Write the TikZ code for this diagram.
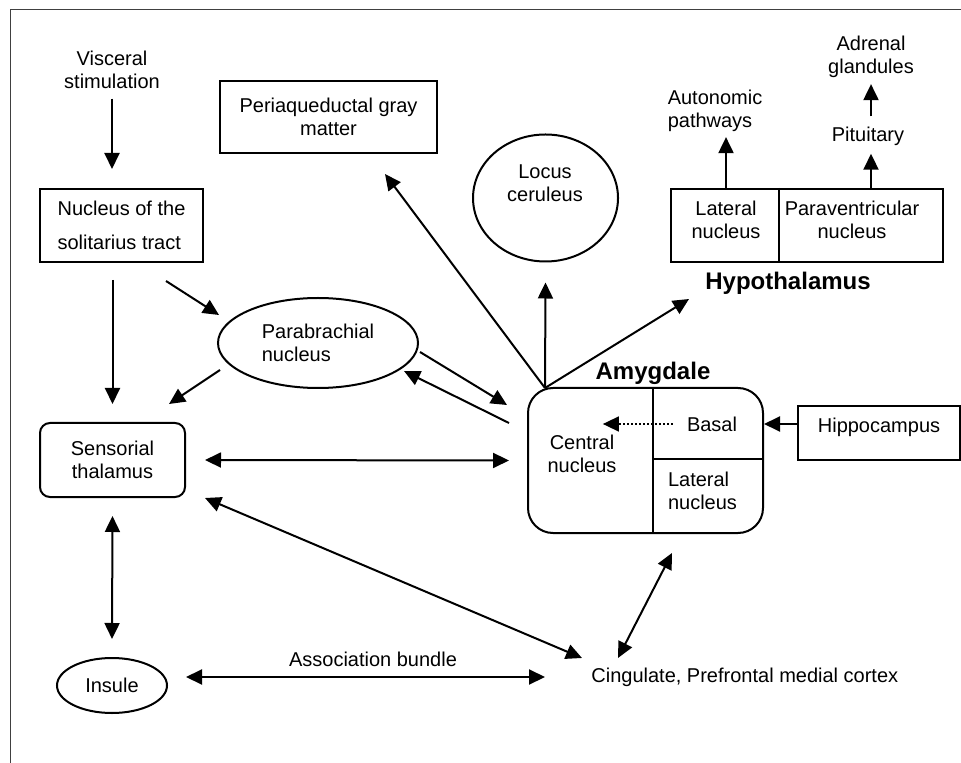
\documentclass[tikz,border=0pt]{standalone}
\usepackage{fontspec}
\setmainfont{Liberation Sans}
\usetikzlibrary{arrows.meta,positioning,calc,shapes.geometric}
\tikzset{
  lbl/.style   ={align=center, inner sep=0pt, font=\fontsize{10}{11.4}\selectfont},
  ttl/.style   ={inner sep=0pt, font=\fontsize{12}{14}\selectfont\bfseries},
  box/.style   ={draw, line width=1pt, inner sep=0pt, align=center, font=\fontsize{10}{11.4}\selectfont},
  rbox/.style  ={box, rounded corners=5pt},
  oval/.style  ={ellipse, draw, line width=1pt, inner sep=0pt, align=center, font=\fontsize{10}{11.4}\selectfont},
  arr/.style   ={-{Triangle[length=8pt,width=7.5pt]}, line width=1pt},
  dbl/.style   ={{Triangle[length=8pt,width=7.5pt]}-{Triangle[length=8pt,width=7.5pt]}, line width=1pt},
  dotarr/.style={arr, dash pattern=on 0.8pt off 1.2pt, line width=0.8pt},
  frm/.style   ={line width=0.75pt, draw=black!75},
}
\begin{document}
\begin{tikzpicture}[x=0.5pt, y=-0.5pt]
  \useasboundingbox (0,0) rectangle (961,763);
  \draw[frm] (10.5,763) -- (10.5,9.5) -- (961,9.5);
  % --- left column ---
  \node[lbl] (vis) at (112,69.5) {Visceral\\stimulation};
  \node[box, minimum width=81.5pt, minimum height=36.5pt, align=left] (nts) at (121.5,225.5) {Nucleus of the\\[5.7pt]solitarius tract};
  \node[rbox, minimum width=72.5pt, minimum height=37pt] (thal) at (112.5,460) {Sensorial\\thalamus};
  \node[oval, minimum width=55pt, minimum height=27.5pt] (ins) at (112,685.5) {Insule};
  % --- middle ---
  \node[box, minimum width=108.5pt, minimum height=36pt] (pag) at (328.5,117) {Periaqueductal gray\\matter};
  \node[oval, minimum width=100pt, minimum height=45pt, align=left] (pb) at (318,343) {Parabrachial\\nucleus};
  \node[oval, minimum width=72.5pt, minimum height=63.5pt] (lc) at (545.5,198) {};
  \node[lbl] (lctxt) at (545,183) {Locus\\ceruleus};
  \node[lbl] (assoc) at (373,659) {Association bundle};
  \node[lbl, anchor=west] (cing) at (591,677) {Cingulate, Prefrontal medial cortex};
  % --- amygdala ---
  \node[box, rounded corners=12.5pt, minimum width=117.5pt, minimum height=72.5pt] (amyg) at (645.5,460.5) {};
  \draw[line width=1pt] ($(amyg.north west)+(126,0)$) -- ($(amyg.south west)+(126,0)$);
  \draw[line width=1pt] ($(amyg.north west)+(126,72)$) -- ($(amyg.north east)+(0,72)$);
  \node[ttl] (amygt) at (653,373) {Amygdale};
  \node[lbl] (central) at (582,454) {Central\\nucleus};
  \node[lbl] (basal) at (712,424) {Basal};
  \node[lbl, align=left] (alat) at (702.5,491) {Lateral\\nucleus};
  \node[box, minimum width=81pt, minimum height=27pt, text height=7pt, text depth=7.5pt] (hippo) at (879,433) {Hippocampus};
  % --- hypothalamus ---
  \node[box, minimum width=136pt, minimum height=36.5pt] (hyp) at (807,225.5) {};
  \draw[line width=1pt] ($(hyp.north west)+(109,0)$) -- ($(hyp.south west)+(109,0)$);
  \node[lbl] (hlat) at (726,220) {Lateral\\nucleus};
  \node[lbl] (hpvn) at (852,220) {Paraventricular\\nucleus};
  \node[ttl] (hypt) at (788,283) {Hypothalamus};
  \node[lbl, align=left] (auton) at (715,111) {Autonomic\\pathways};
  \node[lbl] (pit) at (868,136) {Pituitary};
  \node[lbl] (adr) at (871,57) {Adrenal\\glandules};
  % --- connectors ---
  \coordinate (fan) at (545,388);
  \draw[arr, shorten <=5pt, shorten >=9.5pt] (vis.south) -- (vis.south |- nts.north);
  \draw[arr] ($(thal.north |- nts.south)+(0,17)$) -- ($(thal.north)+(0,-18)$);
  \draw[arr] ($(nts.south)+(44.5,18)$) -- ($(pb.west)+(2,-28)$);
  \draw[arr] ($(pb.west)+(3,27)$) -- ($(thal.north east)+(-17,-18)$);
  \draw[arr] ($(pb.east)+(1,9)$) -- ($(amyg.north west)+(-20,18)$);
  \draw[arr] ($(amyg.north west)+(-18,36)$) -- ($(pb.east)+(-15,28)$);
  \draw[arr] (fan) -- ($(pag.south)+(56.5,20)$);
  \draw[arr] (fan) -- ($(lc.south)+(0,20)$);
  \draw[arr] (fan) -- ($(hyp.south west)+(19,36)$);
  \draw[arr] (hippo.west |- basal) -- (amyg.east |- basal);
  \draw[dotarr] ($(basal.west)+(-14,0)$) -- ($(central.east |- basal)+(-14,0)$);
  \draw[dbl] ($(thal.east)+(19,0)$) -- ($(amyg.west)+(-18,0)$);
  \draw[dbl] ($(thal.south east)+(19,0)$) -- ($(cing.west)+(-9,-19)$);
  \draw[dbl] ($(amyg.south)+(26.5,19)$) -- ($(cing.west)+(27,-19)$);
  \draw[dbl] ($(thal.south)+(0,18)$) -- ($(ins.north)+(0,-18)$);
  \draw[dbl] ($(ins.east |- cing.west)+(18,0)$) -- ($(cing.west)+(-46,0)$);
  \draw[arr] (hlat |- hyp.north) -- ($(hlat |- auton.south)+(0,5)$);
  \draw[arr] (hyp.north -| adr) -- ($(pit.south -| adr)+(0,8)$);
  \draw[arr] ($(pit.north -| adr)+(0,-10)$) -- ($(adr.south)+(0,6)$);
\end{tikzpicture}
\end{document}
